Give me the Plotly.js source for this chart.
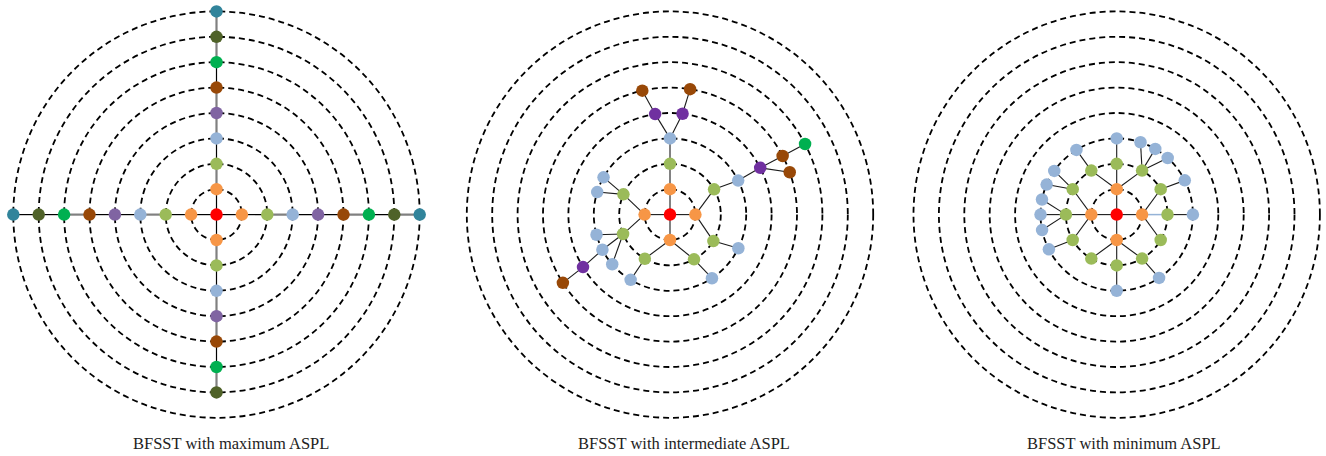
<!DOCTYPE html>
<html>
<head>
<meta charset="utf-8">
<script src="https://cdn.plot.ly/plotly-3.0.1.min.js"></script>
<style>
  html, body { margin: 0; padding: 0; background: #ffffff; }
  #chart { width: 1326px; height: 456px; }
</style>
</head>
<body>
<div id="chart"></div>
<script>
// ---------------- DATA ----------------
const panelTitles = [
  "BFSST with maximum ASPL",
  "BFSST with intermediate ASPL",
  "BFSST with minimum ASPL"
];
const ringLevels = [1, 2, 3, 4, 5, 6, 7, 8];

// Panel 1 (maximum ASPL): level (hop / ring), angle in degrees, parent node index
const p1Level  = [0, 1,2,3,4,5,6,7,8, 1,2,3,4,5,6,7,8, 1,2,3,4,5,6,7,8, 1,2,3,4,5,6,7];
const p1Angle  = [0, 90,90,90,90,90,90,90,90, 180,180,180,180,180,180,180,180,
                  0,0,0,0,0,0,0,0, 270,270,270,270,270,270,270];
const p1Parent = [-1, 0,1,2,3,4,5,6,7, 0,9,10,11,12,13,14,15, 0,17,18,19,20,21,22,23, 0,25,26,27,28,29,30];
// edge (to parent) drawn grey (1) or black (0)
const p1EdgeGrey = [0, 0,1,0,1,1,0,1,1, 0,0,1,0,0,1,0,0, 0,0,1,0,0,1,0,1, 0,1,0,1,1,0,1];

// Panel 2 (intermediate ASPL)
const p2Level  = [0, 1,1,1,1, 2,2,2,2,2,2,2, 3,3,3,3,3,3,3,3,3,3, 4,4,4,4, 5,5,5,5,5, 6];
const p2Angle  = [0, 90,180,0,270,
                  90,156.5,202.5,29.8,328.6,240.3,298.2,
                  90,150.7,162.8,195.3,207.5,220.7,238.9,26.5,333.8,303.4,
                  98.4,82.9,27.4,211.1,
                  102.6,80.9,27.5,19.5,212.5,
                  27.6];
const p2Parent = [-1, 0,0,0,0,
                  1,2,2,3,3,4,4,
                  5,6,6,7,7,7,10,8,9,11,
                  12,12,19,16,
                  22,23,24,24,25,
                  28];

// Panel 3 (minimum ASPL)
const p3Level  = [0, 1,1,1,1, 2,2,2,2,2,2,2,2,2,2,2,2, 3,3,3,3,3,3,3,3,3,3,3,3,3,3,3];
const p3Angle  = [0, 90,180,0,270,
                  90,120,60,150,180,210,30,0,330,240,270,300,
                  90,121.9,145,156.8,168.6,180,191.7,207.1,71.8,59.6,48,26.7,0,303.8,270];
const p3Parent = [-1, 0,0,0,0,
                  1,1,1,2,2,2,3,3,3,4,4,4,
                  5,6,8,8,9,9,9,10,7,7,7,11,12,16,15];

// ---------------- STYLE ----------------
const levelColours = ['#FF0000','#F79646','#9BBB59','#95B3D7','#8064A2','#984807','#00B050','#4F6228','#31849B'];
const levelColoursP2 = levelColours.slice(); levelColoursP2[4] = '#7030A0';
const U = 25.4;                    // pixels per ring level
const W = 1326, H = 456;
const centresX = [216.5, 670, 1116.7];
const titleX = [231, 684, 1124];
const centreY = 214.6;

function polar(level, ang) {
  const a = ang * Math.PI / 180;
  return [level * Math.cos(a), level * Math.sin(a)];
}

const traces = [];
const shapes = [];
const annotations = [];

function addPanel(idx, levels, angles, parents, palette, edgeStyleFn) {
  const xa = idx === 0 ? 'x' : 'x' + (idx + 1);
  const ya = idx === 0 ? 'y' : 'y' + (idx + 1);
  const pts = levels.map((l, i) => polar(l, angles[i]));
  // edges grouped by style
  const groups = {};
  parents.forEach((p, i) => {
    if (p < 0) return;
    const st = edgeStyleFn(i);
    const key = st.color + '|' + st.width;
    if (!groups[key]) groups[key] = { st: st, x: [], y: [] };
    groups[key].x.push(pts[p][0], pts[i][0], null);
    groups[key].y.push(pts[p][1], pts[i][1], null);
  });
  Object.values(groups).forEach(g => {
    traces.push({
      type: 'scatter', mode: 'lines', x: g.x, y: g.y, xaxis: xa, yaxis: ya,
      line: { color: g.st.color, width: g.st.width }, hoverinfo: 'skip', showlegend: false
    });
  });
  traces.push({
    type: 'scatter', mode: 'markers',
    x: pts.map(p => p[0]), y: pts.map(p => p[1]), xaxis: xa, yaxis: ya,
    marker: { size: 12.5, color: levels.map(l => palette[l]), line: { width: 0 } },
    cliponaxis: false, hoverinfo: 'skip', showlegend: false
  });
  ringLevels.forEach(r => {
    shapes.push({
      type: 'circle', xref: xa, yref: ya, x0: -r, x1: r, y0: -r, y1: r,
      layer: 'below', line: { color: '#000000', width: 1.8, dash: '6px,4px' }
    });
  });
  annotations.push({
    text: panelTitles[idx], xref: 'paper', yref: 'paper',
    x: titleX[idx] / W, y: 1 - 443 / H, xanchor: 'center', yanchor: 'middle',
    showarrow: false, font: { family: '"Liberation Serif", "Times New Roman", serif', size: 16.5, color: '#222222' }
  });
}

addPanel(0, p1Level, p1Angle, p1Parent, levelColours,
  i => p1EdgeGrey[i] ? { color: '#808080', width: 2.2 } : { color: '#000000', width: 1.2 });
addPanel(1, p2Level, p2Angle, p2Parent, levelColoursP2,
  i => ({ color: '#1a1a1a', width: 1.1 }));
addPanel(2, p3Level, p3Angle, p3Parent, levelColours,
  i => (i === 12 ? { color: '#95B3D7', width: 1.5 } : { color: '#1a1a1a', width: 1.1 }));

const layout = {
  width: W, height: H,
  margin: { l: 0, r: 0, t: 0, b: 0, pad: 0 },
  paper_bgcolor: '#ffffff', plot_bgcolor: 'rgba(0,0,0,0)',
  showlegend: false,
  shapes: shapes,
  annotations: annotations
};
const yRange = [-(H - centreY) / U, centreY / U];
centresX.forEach((cx, i) => {
  const x0 = Math.max(0, cx - 222), x1 = Math.min(W, cx + 222);
  const ax = { domain: [x0 / W, x1 / W], range: [(x0 - cx) / U, (x1 - cx) / U],
    visible: false, showgrid: false, zeroline: false, fixedrange: true };
  const ay = { domain: [0, 1], range: yRange,
    visible: false, showgrid: false, zeroline: false, fixedrange: true };
  if (i > 0) { ax.anchor = 'y' + (i + 1); ay.anchor = 'x' + (i + 1); }
  layout[i === 0 ? 'xaxis' : 'xaxis' + (i + 1)] = ax;
  layout[i === 0 ? 'yaxis' : 'yaxis' + (i + 1)] = ay;
});

Plotly.newPlot('chart', traces, layout, { staticPlot: true, displayModeBar: false });
</script>
</body>
</html>
